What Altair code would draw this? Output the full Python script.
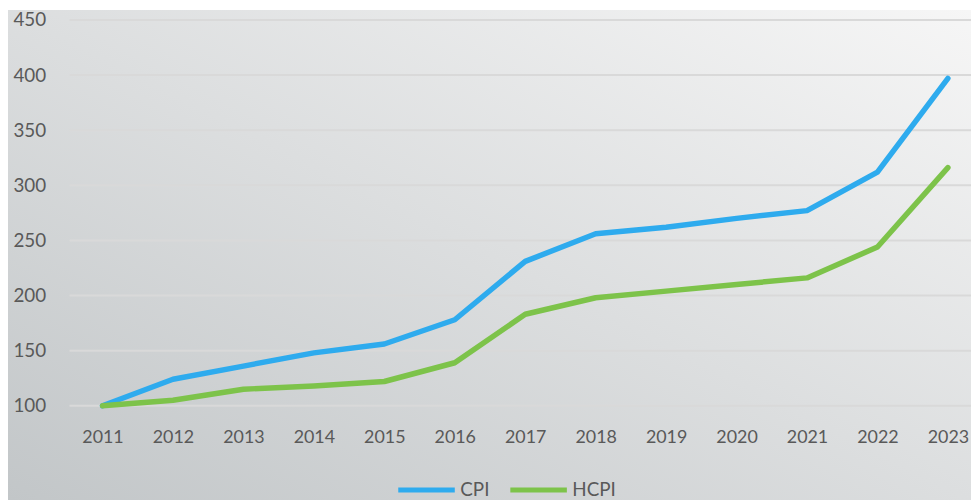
import altair as alt
import pandas as pd

years = list(range(2011, 2024))
cpi = [100, 124, 136, 148, 156, 178, 231, 256, 262, 270, 277, 312, 397]
hcpi = [100, 105, 115, 118, 122, 139, 183, 198, 204, 210, 216, 244, 316]
series_names = ["CPI", "HCPI"]
series_colors = ["#2eabee", "#7dc34a"]
y_ticks = [100, 150, 200, 250, 300, 350, 400, 450]

rows = []
for y, v in zip(years, cpi):
    rows.append({"year": y, "value": v, "series": "CPI"})
for y, v in zip(years, hcpi):
    rows.append({"year": y, "value": v, "series": "HCPI"})
df = pd.DataFrame(rows)
grid_df = pd.DataFrame({"value": y_ticks})

W, H = 909, 389
PL, PT, PB = 62, 10, 95

x_scale = alt.Scale(domain=[2010.531, 2023.328], nice=False, zero=False)
y_scale = alt.Scale(domain=[100, 450], nice=False, zero=False)

bg = alt.Chart(pd.DataFrame({"a": [0]})).mark_rect(
    fill=alt.Gradient(
        gradient="linear",
        stops=[
            alt.GradientStop(color="#c2c6c8", offset=0),
            alt.GradientStop(color="#dcdedf", offset=0.5),
            alt.GradientStop(color="#f6f6f6", offset=1),
        ],
        x1=0, y1=1, x2=1, y2=0,
    ),
    clip=False,
).encode(
    x=alt.value(-PL), x2=alt.value(W),
    y=alt.value(-PT), y2=alt.value(H + PB),
)

grid = alt.Chart(grid_df).mark_rule(color="#d9d9d9", strokeWidth=2).encode(
    y=alt.Y("value:Q", scale=y_scale),
    x=alt.value(0), x2=alt.value(W),
)

lines = alt.Chart(df).mark_line(
    strokeWidth=5.5, strokeCap="round", strokeJoin="round"
).encode(
    x=alt.X("year:Q", scale=x_scale,
            axis=alt.Axis(values=years, format="d", title=None, grid=False,
                          domain=False, ticks=False, labelPadding=23,
                          labelFontSize=18, labelColor="#595959",
                          labelFont="Lato", labelFlush=False, zindex=1)),
    y=alt.Y("value:Q", scale=y_scale,
            axis=alt.Axis(values=y_ticks, title=None, grid=False,
                          domain=False, ticks=False, labelPadding=24,
                          labelFontSize=19, labelColor="#595959",
                          labelFont="Lato", zindex=1)),
    color=alt.Color("series:N",
                    scale=alt.Scale(domain=series_names, range=series_colors),
                    legend=alt.Legend(title=None, orient="none",
                                      direction="horizontal",
                                      legendX=329, legendY=443,
                                      symbolType="stroke", symbolSize=3249,
                                      symbolStrokeWidth=5,
                                      labelFontSize=19, labelColor="#595959",
                                      labelFont="Lato", labelOffset=3,
                                      columnPadding=10, zindex=1)),
)

chart = alt.layer(bg, grid, lines).properties(
    width=W, height=H,
    autosize=alt.AutoSizeParams(type="none"),
    padding={"left": PL, "top": PT, "right": 0, "bottom": PB},
).configure_view(stroke=None)

chart.save("out.html", embed_options={"renderer": "svg", "actions": False})
